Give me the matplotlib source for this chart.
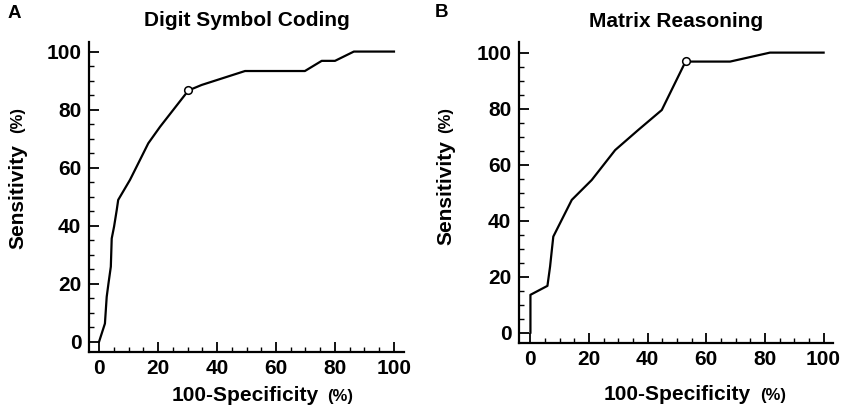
import numpy as np
import matplotlib
matplotlib.use('Agg')
import matplotlib.pyplot as plt
from matplotlib.ticker import MultipleLocator

plt.rcParams['font.family'] = ['Liberation Sans', 'DejaVu Sans']

# ROC curve, Digit Symbol Coding
dsc_fpr = [0, 2.0, 2.6, 3.2, 4.0, 4.3, 5.1, 6.0, 6.5, 10.5, 13.9, 16.7, 20.7,
           30.3, 34.8, 49.5, 69.8, 75.5, 80.0, 86.4, 100]
dsc_tpr = [0, 6.3, 15.5, 20.1, 25.9, 35.6, 39.7, 45.4, 48.9, 55.8, 62.7, 68.4, 74.1,
           86.6, 88.5, 93.3, 93.3, 96.8, 96.8, 100, 100]
dsc_cut = (30.3, 86.6)

# ROC curve, Matrix Reasoning
mr_fpr = [0, 0, 5.8, 6.7, 7.3, 7.8, 14.1, 20.9, 28.9, 36.8, 44.8, 52.9,
          68.1, 81.7, 100]
mr_tpr = [0, 13.5, 16.7, 23.6, 29.5, 34.3, 47.4, 54.5, 65.2, 72.4, 79.5, 96.8,
          96.8, 100, 100]
mr_cut = (53.0, 97.0)

W, H = 850, 416
fig = plt.figure(figsize=(W / 100, H / 100), dpi=100)

def px_axes(l, t, r, b):
    return fig.add_axes([l / W, 1 - b / H, (r - l) / W, (b - t) / H])

def ftext(x, y, s, **kw):
    # text placed in figure pixels, measured from the top-left corner
    return fig.text(x / W, 1 - y / H, s, **kw)

axA = px_axes(89, 41.7, 404, 351.7)
axB = px_axes(519, 41.7, 833.3, 342.7)

panels = [
    (axA, dsc_fpr, dsc_tpr, dsc_cut, (-3.4, 103.4), (-3.4, 103.4)),
    (axB, mr_fpr, mr_tpr, mr_cut, (-3.9, 103.3), (-3.6, 103.9)),
]

for ax, fx, fy, cut, xl, yl in panels:
    ax.plot(fx, fy, color='black', lw=1.6, solid_joinstyle='round')
    ax.plot(cut[0], cut[1], 'o', ms=5.5, mfc='white', mec='black', mew=1.1)
    ax.set_xlim(*xl)
    ax.set_ylim(*yl)
    for s in ['top', 'right']:
        ax.spines[s].set_visible(False)
    for s in ['left', 'bottom']:
        ax.spines[s].set_linewidth(1.6)
    ax.xaxis.set_major_locator(MultipleLocator(20))
    ax.yaxis.set_major_locator(MultipleLocator(20))
    ax.xaxis.set_minor_locator(MultipleLocator(5))
    ax.yaxis.set_minor_locator(MultipleLocator(5))
    ax.tick_params(which='major', direction='in', length=7, width=1.3, pad=5.5,
                   labelsize=15)
    ax.tick_params(which='minor', direction='in', length=3.5, width=1.0)
    for lab in ax.get_xticklabels() + ax.get_yticklabels():
        lab.set_fontweight('bold')

bold = dict(fontweight='bold')

# titles
ftext(246.5, 26.5, 'Digit Symbol Coding', fontsize=15, ha='center', va='baseline', **bold)
ftext(676.5, 26.7, 'Matrix Reasoning', fontsize=15, ha='center', va='baseline', **bold)

# x labels
ftext(245, 401, '100-Specificity', fontsize=15, ha='center', va='baseline', **bold)
ftext(340, 401, '(%)', fontsize=12, ha='center', va='baseline', **bold)
ftext(676.7, 400, '100-Specificity', fontsize=15, ha='center', va='baseline', **bold)
ftext(773, 400, '(%)', fontsize=12, ha='center', va='baseline', **bold)

# y labels
ftext(18, 196.7, 'Sensitivity', fontsize=15, ha='center', va='center', rotation=90, **bold)
ftext(18, 120, '(%)', fontsize=12, ha='center', va='center', rotation=90, **bold)
ftext(446, 192.5, 'Sensitivity', fontsize=15, ha='center', va='center', rotation=90, **bold)
ftext(446, 120, '(%)', fontsize=12, ha='center', va='center', rotation=90, **bold)

# panel letters
ftext(7.5, 17.5, 'A', fontsize=13.5, ha='left', va='baseline', fontweight='semibold')
ftext(434.5, 17, 'B', fontsize=13.5, ha='left', va='baseline', fontweight='semibold')

fig.savefig('out.png', dpi=100)
